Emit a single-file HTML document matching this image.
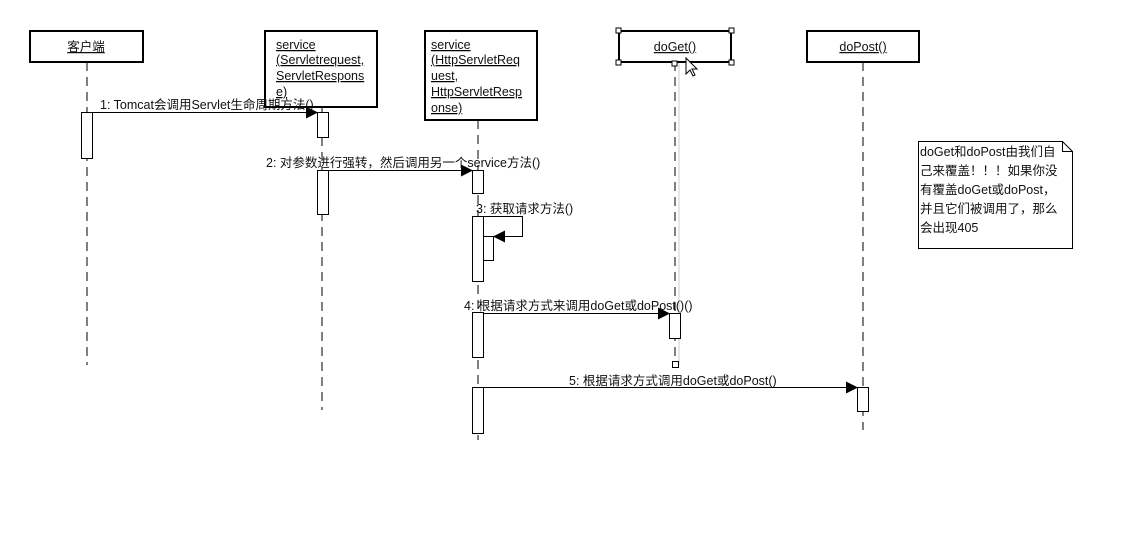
<!DOCTYPE html>
<html><head><meta charset="utf-8"><style>
html,body{margin:0;padding:0;background:#fff;}
svg{display:block;}
text{font-family:"Liberation Sans","Noto Sans CJK SC",sans-serif;font-size:12.5px;fill:#111;}
</style></head><body>
<svg width="1128" height="556" viewBox="0 0 1128 556" xmlns="http://www.w3.org/2000/svg">
<defs>
<marker id="a" markerWidth="12" markerHeight="12" refX="11" refY="6" orient="auto" markerUnits="userSpaceOnUse">
<path d="M0,0 L12,6 L0,12 z" fill="#000"/></marker>
</defs>
<g stroke="#000" fill="none">
<line x1="87" y1="62" x2="87" y2="365" stroke-dasharray="9,6"/>
<line x1="322" y1="107" x2="322" y2="410" stroke-dasharray="9,6"/>
<line x1="478" y1="120" x2="478" y2="440" stroke-dasharray="9,6"/>
<line x1="675" y1="62" x2="675" y2="362" stroke-dasharray="9,6"/>
<line x1="679" y1="62" x2="679" y2="365" stroke="#ccc"/>
<line x1="863" y1="62" x2="863" y2="430" stroke-dasharray="9,6"/>
</g>
<g stroke="#000" stroke-width="2" fill="#fff">
<rect x="30" y="31" width="113" height="31"/>
<rect x="265" y="31" width="112" height="76"/>
<rect x="425" y="31" width="112" height="89"/>
<rect x="619" y="31" width="112" height="31"/>
<rect x="807" y="31" width="112" height="31"/>
</g>
<g fill="#fff" stroke="#000" stroke-width="1">
<rect x="616" y="28" width="5" height="5"/><rect x="729" y="28" width="5" height="5"/>
<rect x="616" y="60" width="5" height="5"/><rect x="729" y="60" width="5" height="5"/>
<rect x="672" y="61" width="5" height="5"/>
</g>
<path d="M686,58 l0,16 l4,-4 l3,6 l2,-1 l-3,-6 l5,0 z" fill="#fff" stroke="#000"/>
<g fill="#fff" stroke="#000">
<rect x="81.5" y="112.5" width="11" height="46"/>
<rect x="317.5" y="112.5" width="11" height="25"/>
<rect x="317.5" y="170.5" width="11" height="44"/>
<rect x="472.5" y="170.5" width="11" height="23"/>
<rect x="472.5" y="216.5" width="11" height="65"/>
<rect x="483.5" y="236.5" width="10" height="24"/>
<rect x="472.5" y="312.5" width="11" height="45"/>
<rect x="472.5" y="387.5" width="11" height="46"/>
<rect x="669.5" y="313.5" width="11" height="25"/>
<rect x="672.5" y="361.5" width="6" height="6"/>
<rect x="857.5" y="387.5" width="11" height="24"/>
</g>
<g stroke="#000" fill="none">
<line x1="92" y1="112.5" x2="317" y2="112.5" marker-end="url(#a)"/>
<line x1="328" y1="170.5" x2="472" y2="170.5" marker-end="url(#a)"/>
<polyline points="483,216.5 522.5,216.5 522.5,236.5 494,236.5" marker-end="url(#a)"/>
<line x1="483" y1="313.5" x2="669" y2="313.5" marker-end="url(#a)"/>
<line x1="483" y1="387.5" x2="857" y2="387.5" marker-end="url(#a)"/>
</g>
<text x="86" y="51" text-anchor="middle" text-decoration="underline">客户端</text>
<g text-decoration="underline">
<text x="276" y="49">service</text>
<text x="276" y="64">(Servletrequest,</text>
<text x="276" y="80">ServletRespons</text>
<text x="276" y="96">e)</text>
<text x="431" y="49">service</text>
<text x="431" y="64">(HttpServletReq</text>
<text x="431" y="80">uest,</text>
<text x="431" y="96">HttpServletResp</text>
<text x="431" y="112">onse)</text>
</g>
<text x="675" y="51" text-anchor="middle" text-decoration="underline">doGet()</text>
<text x="863" y="51" text-anchor="middle" text-decoration="underline">doPost()</text>
<text x="100" y="109">1: Tomcat会调用Servlet生命周期方法()</text>
<text x="266" y="167">2: 对参数进行强转，然后调用另一个service方法()</text>
<text x="476" y="213">3: 获取请求方法()</text>
<text x="464" y="310">4: 根据请求方式来调用doGet或doPost()()</text>
<text x="569" y="385">5: 根据请求方式调用doGet或doPost()</text>
<path d="M918.5,141.5 L1062.5,141.5 L1072.5,151.5 L1072.5,248.5 L918.5,248.5 Z M1062.5,141.5 L1062.5,151.5 L1072.5,151.5" fill="#fff" stroke="#000"/>
<text x="920" y="156">doGet和doPost由我们自</text>
<text x="920" y="175">己来覆盖！！！如果你没</text>
<text x="920" y="194">有覆盖doGet或doPost，</text>
<text x="920" y="213">并且它们被调用了，那么</text>
<text x="920" y="232">会出现405</text>
</svg>
</body></html>
